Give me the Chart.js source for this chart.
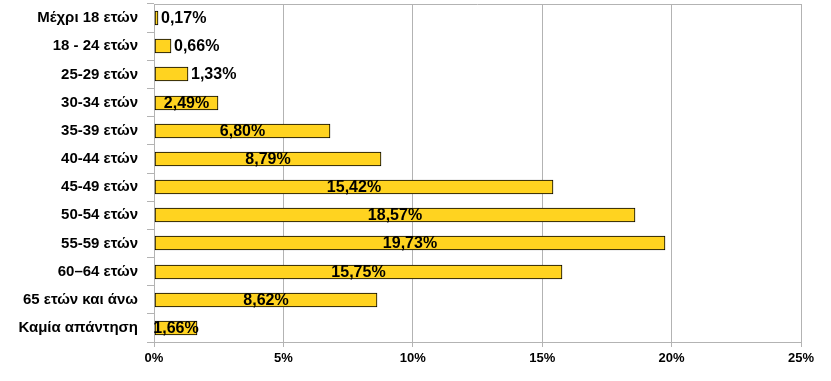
<!DOCTYPE html>
<html>
<head>
<meta charset="utf-8">
<script src="https://cdn.jsdelivr.net/npm/chart.js@4/dist/chart.umd.min.js"></script>
<style>
html,body{margin:0;padding:0;background:#fff;}
#wrap{width:831px;height:381px;position:relative;}
</style>
</head>
<body>
<div id="wrap"><canvas id="c" width="831" height="381"></canvas></div>
<script>
const categories = ["Μέχρι 18 ετών","18 - 24 ετών","25-29 ετών","30-34 ετών","35-39 ετών","40-44 ετών","45-49 ετών","50-54 ετών","55-59 ετών","60–64 ετών","65 ετών και άνω","Καμία απάντηση"];
const values = [0.17,0.66,1.33,2.49,6.80,8.79,15.42,18.57,19.73,15.75,8.62,1.66];
const xTicks = [0,5,10,15,20,25];

const fmt = v => v.toFixed(2).replace('.', ',') + '%';
const GRID = '#b3b3b3';

const snapBars = {
  id: 'snapBars',
  afterDatasetsUpdate(chart) {
    chart.getDatasetMeta(0).data.forEach(el => {
      el.y = Math.round(el.y);
      el.x = Math.round(el.x);
      el.base = Math.round(el.base);
    });
  }
};

const labelPlugin = {
  id: 'barLabels',
  afterDatasetsDraw(chart) {
    const ctx = chart.ctx;
    const meta = chart.getDatasetMeta(0);
    ctx.save();
    ctx.fillStyle = '#000';
    ctx.textBaseline = 'middle';
    ctx.font = 'bold 16px "Liberation Sans", Arial, sans-serif';
    meta.data.forEach((bar, i) => {
      const v = values[i];
      const txt = fmt(v);
      if (v < 1.5) {
        ctx.textAlign = 'left';
        ctx.fillText(txt, bar.x + 3, bar.y + 1);
      } else {
        ctx.textAlign = 'center';
        ctx.fillText(txt, (bar.x + bar.base) / 2, bar.y + 1);
      }
    });
    ctx.restore();
  }
};

const topLine = {
  id: 'topLine',
  beforeDatasetsDraw(chart) {
    const {ctx, chartArea} = chart;
    ctx.save();
    ctx.strokeStyle = GRID;
    ctx.lineWidth = 1;
    ctx.beginPath();
    ctx.moveTo(chartArea.left, chartArea.top + 0.5);
    ctx.lineTo(chartArea.right, chartArea.top + 0.5);
    ctx.stroke();
    ctx.restore();
  }
};

new Chart(document.getElementById('c'), {
  type: 'bar',
  data: {
    labels: categories,
    datasets: [{
      data: values,
      backgroundColor: '#FFD320',
      borderColor: '#000000',
      borderWidth: 1,
      borderSkipped: false,
      barThickness: 14
    }]
  },
  options: {
    indexAxis: 'y',
    responsive: false,
    animation: false,
    layout: { padding: { left: 0, right: 30, top: 4, bottom: 0 } },
    plugins: { legend: { display: false }, tooltip: { enabled: false } },
    scales: {
      x: {
        min: 0, max: 25,
        afterBuildTicks: s => { s.ticks = xTicks.map(v => ({ value: v })); },
        afterFit: s => { s.height = 39; s.paddingLeft = 0; s.paddingRight = 0; },
        grid: { color: GRID, tickLength: 5, tickColor: GRID },
        border: { color: GRID },
        ticks: {
          padding: 4,
          maxRotation: 0,
          color: '#000',
          font: { family: '"Liberation Sans", Arial, sans-serif', size: 13, weight: 'bold' },
          callback: v => v + '%'
        }
      },
      y: {
        afterFit: s => { s.width = 154; s.paddingTop = 0; s.paddingBottom = 0; },
        grid: { drawOnChartArea: false, color: GRID, tickLength: 7, tickColor: GRID },
        border: { color: GRID },
        ticks: {
          padding: 9,
          color: '#000',
          autoSkip: false,
          font: { family: '"Liberation Sans", Arial, sans-serif', size: 15, weight: 'bold' }
        }
      }
    }
  },
  plugins: [snapBars, labelPlugin, topLine]
});
</script>
</body>
</html>
